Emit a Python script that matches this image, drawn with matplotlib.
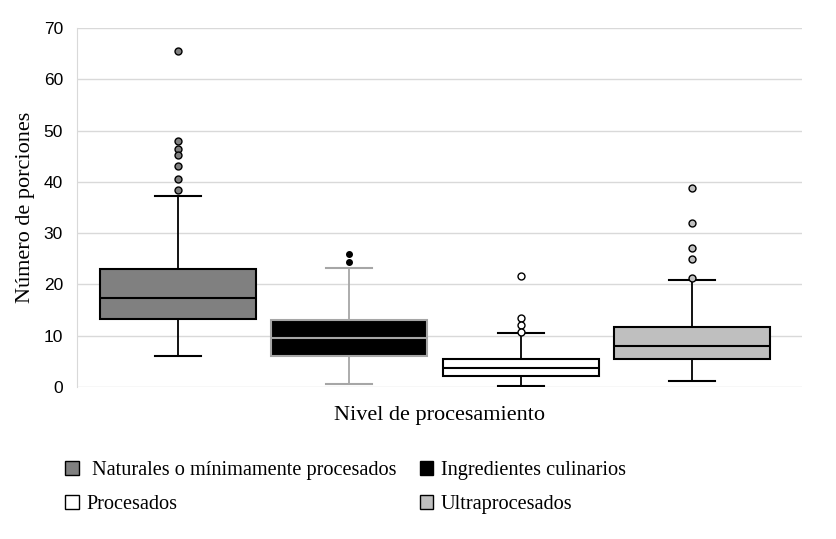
import matplotlib.pyplot as plt
from matplotlib.patches import Patch

categorias = [' Naturales o mínimamente procesados', 'Ingredientes culinarios',
              'Procesados', 'Ultraprocesados']
q1 = [13.2, 6.05, 2.1, 5.4]
mediana = [17.35, 9.5, 3.65, 7.9]
q3 = [23.1, 13.1, 5.45, 11.7]
bigote_inf = [6.0, 0.6, 0.2, 1.15]
bigote_sup = [37.2, 23.3, 10.45, 20.85]
atipicos = [
    [65.5, 47.95, 46.5, 45.3, 43.1, 40.5, 38.5],
    [26.0, 24.4],
    [21.6, 13.4, 12.1, 10.8],
    [38.9, 31.9, 27.2, 25.0, 21.2],
]
yticks = [0, 10, 20, 30, 40, 50, 60, 70]

relleno = ['#808080', '#000000', '#ffffff', '#bfbfbf']
bordes = ['#000000', '#a6a6a6', '#000000', '#000000']
tam_marcador = [5, 4, 5, 5]

fig = plt.figure(figsize=(8.36, 5.39), dpi=100)
ax = fig.add_axes([0.092, 0.282, 0.867, 0.666])

for i in range(4):
    stats = [{'med': mediana[i], 'q1': q1[i], 'q3': q3[i],
              'whislo': bigote_inf[i], 'whishi': bigote_sup[i],
              'fliers': atipicos[i]}]
    c = bordes[i]
    ax.bxp(stats, positions=[i], widths=0.91, patch_artist=True,
           boxprops=dict(facecolor=relleno[i], edgecolor=c, linewidth=1.5),
           medianprops=dict(color=c, linewidth=1.5),
           whiskerprops=dict(color=c, linewidth=1.3),
           capprops=dict(color=c, linewidth=1.5),
           capwidths=0.27,
           flierprops=dict(marker='o', markersize=tam_marcador[i], markerfacecolor=relleno[i],
                           markeredgecolor='#000000', markeredgewidth=1.0),
           zorder=3)

ax.set_xlim(-0.59, 3.64)
ax.set_ylim(0, 70)
ax.set_yticks(yticks)
ax.set_xticks([])
ax.yaxis.grid(True, color='#d9d9d9', linewidth=1)
ax.set_axisbelow(True)
for s in ['top', 'right', 'bottom']:
    ax.spines[s].set_visible(False)
ax.spines['left'].set_color('#d9d9d9')
ax.tick_params(axis='y', length=0, pad=10, labelsize=12.5)
for lbl in ax.get_yticklabels():
    lbl.set_fontfamily('Liberation Sans')

ax.set_ylabel('Número de porciones', family='Liberation Serif', fontsize=16, labelpad=6)
ax.set_xlabel('Nivel de procesamiento', family='Liberation Serif', fontsize=16, labelpad=14)

# orden por columnas para que quede como en la figura original
orden = [0, 2, 1, 3]
handles = [Patch(facecolor=relleno[i], edgecolor='#000000', linewidth=1) for i in orden]
etiquetas = [categorias[i] for i in orden]
fig.legend(handles, etiquetas, ncol=2, loc='upper left', bbox_to_anchor=(0.078, 0.144),
           frameon=False, prop={'family': 'Liberation Serif', 'size': 14.6},
           handlelength=0.68, handleheight=0.68, handletextpad=0.38,
           columnspacing=1.15, labelspacing=0.72, borderpad=0, borderaxespad=0)

fig.savefig('out.png', dpi=100)
